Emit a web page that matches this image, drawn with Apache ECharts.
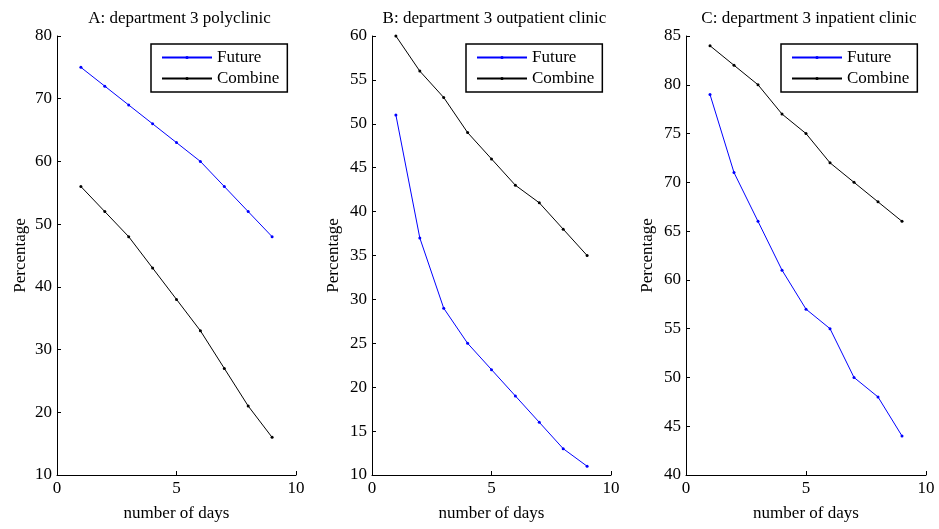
<!DOCTYPE html>
<html>
<head>
<meta charset="utf-8">
<script src="https://cdn.jsdelivr.net/npm/echarts@6/dist/echarts.min.js"></script>
<style>
  html, body { margin: 0; padding: 0; background: #fff; }
  #chart { width: 939px; height: 529px; }
</style>
</head>
<body>
<div id="chart"></div>
<script>
// days on the x axis
const days = [1, 2, 3, 4, 5, 6, 7, 8, 9]

// panel titles
const titles = [
  'A: department 3 polyclinic',
  'B: department 3 outpatient clinic',
  'C: department 3 inpatient clinic'
]

// Future series per panel
const futureA = [75, 72, 69, 66, 63, 60, 56, 52, 48]
const futureB = [51, 37, 29, 25, 22, 19, 16, 13, 11]
const futureC = [79, 71, 66, 61, 57, 55, 50, 48, 44]

// Combine series per panel
const combineA = [56, 52, 48, 43, 38, 33, 27, 21, 16]
const combineB = [60, 56, 53, 49, 46, 43, 41, 38, 35]
const combineC = [84, 82, 80, 77, 75, 72, 70, 68, 66]

// y axis ranges [min, max, interval]
const yRanges = [[10, 80, 10], [10, 60, 5], [40, 85, 5]]

const font = 'Liberation Serif, Times New Roman, serif'
const panels = [
  { left: 57, width: 239, future: futureA, combine: combineA },
  { left: 372, width: 239, future: futureB, combine: combineB },
  { left: 686, width: 240, future: futureC, combine: combineC }
]

const pairs = arr => days.map((d, i) => [d, arr[i]])

const grid = [], xAxis = [], yAxis = [], series = [], title = [], legend = []
panels.forEach((p, i) => {
  grid.push({ left: p.left, top: 36, width: p.width, height: 439 })
  title.push({
    text: titles[i],
    left: p.left + p.width / 2 - 2,
    top: 5,
    textAlign: 'center',
    textStyle: { fontFamily: font, fontSize: 17, fontWeight: 'normal', color: '#000' }
  })
  xAxis.push({
    gridIndex: i, type: 'value', min: 0, max: 10, interval: 5,
    name: 'number of days', nameLocation: 'middle', nameGap: 30,
    nameTextStyle: { fontFamily: font, fontSize: 17, color: '#000' },
    axisLine: { lineStyle: { color: '#000', width: 1 } },
    axisTick: { inside: true, length: 4, lineStyle: { color: '#000' } },
    axisLabel: { fontFamily: font, fontSize: 17, color: '#000', margin: 5 },
    splitLine: { show: false }
  })
  yAxis.push({
    gridIndex: i, type: 'value', min: yRanges[i][0], max: yRanges[i][1], interval: yRanges[i][2],
    name: 'Percentage', nameLocation: 'middle', nameGap: i === 0 ? 28 : 30,
    nameTextStyle: { fontFamily: font, fontSize: 17, color: '#000' },
    axisLine: { lineStyle: { color: '#000', width: 1 } },
    axisTick: { inside: true, length: 4, lineStyle: { color: '#000' } },
    axisLabel: { fontFamily: font, fontSize: 17, color: '#000', margin: 5 },
    splitLine: { show: false }
  })
  series.push({
    name: 'Future', type: 'line', xAxisIndex: i, yAxisIndex: i,
    data: pairs(p.future), symbol: 'circle', symbolSize: 3,
    lineStyle: { color: '#0000ff', width: 1 }, itemStyle: { color: '#0000ff' },
    animation: false
  })
  series.push({
    name: 'Combine', type: 'line', xAxisIndex: i, yAxisIndex: i,
    data: pairs(p.combine), symbol: 'circle', symbolSize: 3,
    lineStyle: { color: '#000', width: 1 }, itemStyle: { color: '#000' },
    animation: false
  })
  legend.push({
    data: ['Future', 'Combine'],
    orient: 'vertical',
    left: p.left + p.width - 145,
    top: 44,
    padding: [5, 8, 5, 10],
    itemGap: 4,
    itemWidth: 50,
    itemHeight: 4,
    borderColor: '#000',
    borderWidth: 1.5,
    borderRadius: 0,
    backgroundColor: '#fff',
    selectedMode: false,
    textStyle: { fontFamily: font, fontSize: 17, color: '#000' }
  })
})

const chart = echarts.init(document.getElementById('chart'), null, { renderer: 'canvas' })
chart.setOption({ animation: false, title, legend, grid, xAxis, yAxis, series })
</script>
</body>
</html>
